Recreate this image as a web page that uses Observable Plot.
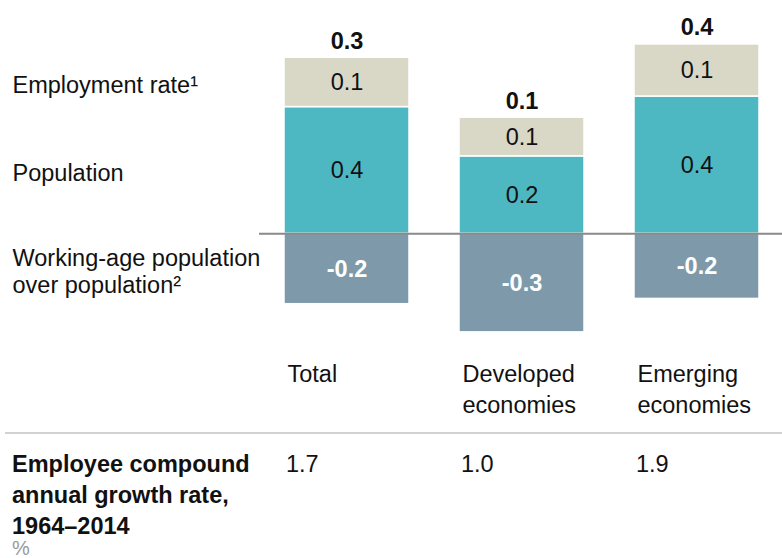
<!DOCTYPE html>
<html>
<head>
<meta charset="utf-8">
<script src="https://cdn.jsdelivr.net/npm/d3@7"></script>
<script src="https://cdn.jsdelivr.net/npm/@observablehq/plot@0.6"></script>
<style>
  body { margin: 0; background: #fff; font-family: "Liberation Sans", Arial, sans-serif; }
  #wrap { position: relative; width: 782px; height: 558px; overflow: hidden; }
  #wrap svg { position: absolute; left: 0; top: 0; }
  .abs { position: absolute; font-size: 23.5px; color: #111; white-space: pre; }
</style>
</head>
<body>
<div id="wrap"></div>
<script>
const categories = ["Total", "Developed economies", "Emerging economies"];
const categoryLabels = ["Total", "Developed\neconomies", "Emerging\neconomies"];
const seriesNames = ["Working-age population over population", "Population", "Employment rate"];
const seriesLabels = ["Working-age population\nover population²", "Population", "Employment rate¹"];
const seriesColors = ["#7e9aaa", "#4db8c2", "#d9d8c6"];
const workingAge = [-0.20, -0.28, -0.185];
const population = [0.36, 0.22, 0.39];
const employment = [0.14, 0.11, 0.148];
const totals = [0.3, 0.1, 0.4];
const cagr = ["1.7", "1.0", "1.9"];
const cagrTitle = "Employee compound\nannual growth rate,\n1964–2014";
const unit = "%";

const data = categories.flatMap((c, i) => [
  {cat: c, series: seriesNames[0], value: workingAge[i]},
  {cat: c, series: seriesNames[1], value: population[i]},
  {cat: c, series: seriesNames[2], value: employment[i]}
]);
const tops = categories.map((c, i) => ({cat: c, top: population[i] + employment[i], label: totals[i].toFixed(1)}));
const labelOf = new Map(seriesNames.map((s, i) => [s, seriesLabels[i]]));
const catLabelOf = new Map(categories.map((c, i) => [c, categoryLabels[i]]));

const W = 782, H = 425, mTop = 0, mBottom = 75, mLeft = 284, mRight = 22.7;
const pxPerUnit = 352, zeroY = 233.3;
const frameH = H - mTop - mBottom;
const yDomain = [-(frameH - zeroY) / pxPerUnit, zeroY / pxPerUnit];
const bw = (W - mLeft - mRight) / (3 - 0.286) * 0.714;
const font = "Liberation Sans, Arial, sans-serif";
const fs = 23.5;

const chart = Plot.plot({
  width: W, height: H,
  marginTop: mTop, marginBottom: mBottom, marginLeft: mLeft, marginRight: mRight,
  style: {fontFamily: font, fontSize: fs + "px", color: "#111", overflow: "visible"},
  x: {domain: categories, paddingInner: 0.286, paddingOuter: 0, axis: null, label: null},
  y: {domain: yDomain, axis: null},
  color: {domain: seriesNames, range: seriesColors},
  marks: [
    Plot.barY(data, {x: "cat", y: "value", fill: "series", stroke: "white", strokeWidth: 1.5}),
    Plot.ruleY([0], {stroke: "#8a8a8a", strokeWidth: 2, insetLeft: -25, insetRight: -23}),
    Plot.text(data.filter(d => d.value > 0), Plot.stackY({
      x: "cat", y: "value", z: "series", text: d => d.value.toFixed(1),
      fill: "#111", fontSize: fs
    })),
    Plot.text(data.filter(d => d.value < 0), Plot.stackY({
      x: "cat", y: "value", z: "series", text: d => d.value.toFixed(1),
      fill: "white", fontSize: fs, fontWeight: "bold"
    })),
    Plot.text(tops, {x: "cat", y: "top", text: "label", fontWeight: "bold", fontSize: fs, fill: "#111", lineAnchor: "bottom", dy: -9}),
    Plot.text(data.filter(d => d.cat === categories[0]), Plot.stackY({
      y: "value", z: "series", text: d => labelOf.get(d.series),
      frameAnchor: "left", dx: 12 - mLeft, dy: 2, textAnchor: "start", fontSize: fs, lineHeight: 1.15, fill: "#111"
    })),
    Plot.axisX({
      tickSize: 0, tickPadding: 9, textAnchor: "start", dx: -bw / 2 + 3, label: null,
      tickFormat: c => catLabelOf.get(c), fontSize: fs, lineHeight: 1.32, fill: "#111"
    })
  ]
});

const wrap = document.getElementById("wrap");
wrap.appendChild(chart);

const xs = chart.scale("x");
function addDiv(text, left, top, extra) {
  const d = document.createElement("div");
  d.className = "abs";
  d.textContent = text;
  d.style.left = left + "px";
  d.style.top = top + "px";
  Object.assign(d.style, extra || {});
  wrap.appendChild(d);
  return d;
}
const sep = document.createElement("div");
Object.assign(sep.style, {position: "absolute", left: "5px", right: "0px", top: "432px", height: "2px", background: "#d2d2d2"});
wrap.appendChild(sep);
addDiv(cagrTitle, 12, 449, {fontWeight: "bold", lineHeight: "31px"});
categories.forEach((c, i) => addDiv(cagr[i], xs.apply(c) + 2, 449, {lineHeight: "31px"}));
addDiv(unit, 12, 537, {color: "#999", fontSize: "20px", lineHeight: "22px"});
</script>
</body>
</html>
